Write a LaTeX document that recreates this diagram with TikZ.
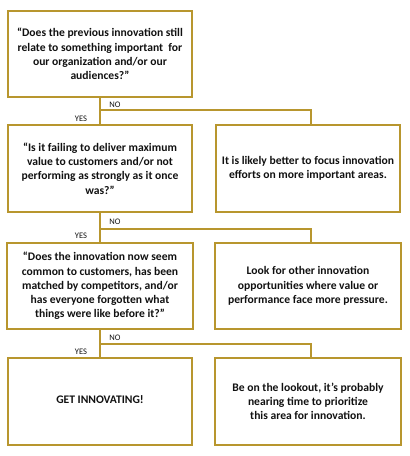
\documentclass[tikz,border=0pt]{standalone}
\usepackage{fontspec}
\setmainfont{Carlito}
\definecolor{gold}{HTML}{B8962E}
\definecolor{ink}{HTML}{111111}
\begin{document}
\begin{tikzpicture}[x=1pt,y=1pt,
  box/.style={draw=gold,line width=1.4pt,minimum width=184pt,minimum height=86pt,
    align=center,font=\fontsize{11.6}{14.2}\selectfont\bfseries,text=ink,inner sep=1pt},
  conn/.style={draw=gold,line width=1.2pt},
  lbl/.style={font=\fontsize{8.5}{9}\selectfont,text=ink,inner sep=0pt}]
\useasboundingbox (0,0) rectangle (410,-456);
\node[box] (b1) at (100,-54) {“Does the previous innovation still\\relate to something important\ \ for\\our organization and/or our\\audiences?”};
\node[box,minimum height=87pt] (b2) at (100,-168.5) {“Is it failing to deliver maximum\\value to customers and/or not\\performing as strongly as it once\\was?”};
\node[box,minimum height=87pt] (r2) at (308,-168.5) {It is likely better to focus innovation\\efforts on more important areas.};
\node[box] (b3) at (100,-286) {\raisebox{4pt}{\parbox{184pt}{\centering “Does the innovation now seem\\common to customers, has been\\matched by competitors, and/or\\has everyone forgotten what\\things were like before it?”}}};
\node[box] (r3) at (308,-286) {\raisebox{6pt}{\parbox{184pt}{\centering Look for other innovation\\opportunities where value or\\performance face more pressure.}}};
\node[box,minimum height=87pt] (b4) at (100,-401.5) {\raisebox{4pt}{GET INNOVATING!}};
\node[box,minimum height=87pt] (r4) at (308,-401.5) {\raisebox{5pt}{\parbox{184pt}{\centering Be on the lookout, it’s probably\\nearing time to prioritize\\this area for innovation.}}};
\coordinate (t2) at ([xshift=3pt]r2.north);
\coordinate (t3) at ([xshift=3pt]r3.north);
\coordinate (t4) at ([xshift=3pt]r4.north);
\draw[conn] (b1.south) -- (b2.north);
\draw[conn] (b1.south |- 0,-110) -| (t2);
\draw[conn] (b2.south) -- (b3.north);
\draw[conn] (b2.south |- 0,-229) -| (t3);
\draw[conn] (b3.south) -- (b4.north);
\draw[conn] (b3.south |- 0,-344) -| (t4);
\node[lbl] (no1) at (115,-105) {NO};
\node[lbl] (yes1) at (81,-119) {YES};
\node[lbl] (no2) at (115,-222) {NO};
\node[lbl] (yes2) at (81,-236) {YES};
\node[lbl] (no3) at (115,-338) {NO};
\node[lbl] (yes3) at (81,-352) {YES};
\end{tikzpicture}
\end{document}
